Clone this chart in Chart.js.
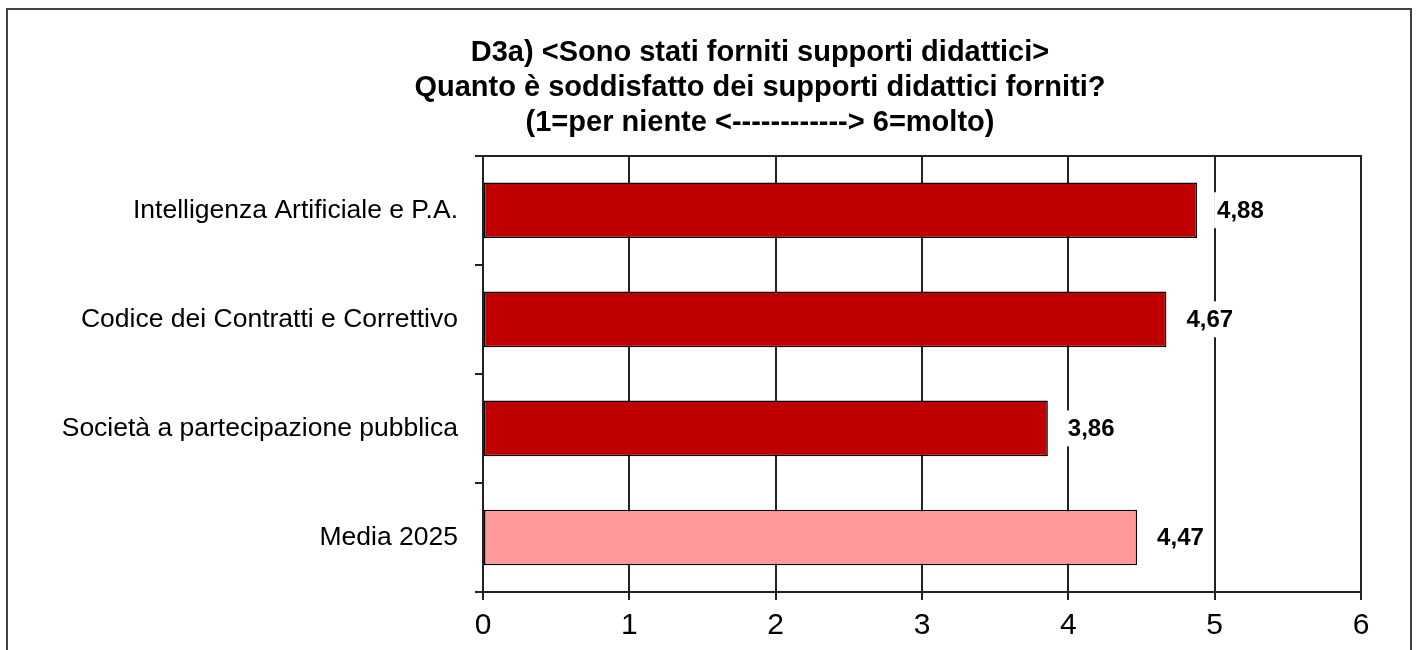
<!DOCTYPE html>
<html lang="it">
  <head>
    <meta charset="UTF-8" />
    <title>D3a supporti didattici</title>
    <script src="https://cdn.jsdelivr.net/npm/chart.js@4.4.1/dist/chart.umd.min.js"></script>
    <style>
      body { margin: 0; background: #fff; }
      #frame {
        position: absolute; left: 6px; top: 8px;
        width: 1402px; height: 700px;
        border: 2px solid #404040;
      }
      #wrap { position: absolute; left: 0; top: 0; width: 1418px; height: 650px; }
    </style>
  </head>
  <body>
    <div id="frame"></div>
    <div id="wrap"><canvas id="chart"></canvas></div>
    <script>
      const categories = [
        'Intelligenza Artificiale e P.A.',
        'Codice dei Contratti e Correttivo',
        'Società a partecipazione pubblica',
        'Media 2025'
      ]
      const scores = [4.88, 4.67, 3.86, 4.47]
      const barColors = ['#C00000', '#C00000', '#C00000', '#FF9999']
      const titleLines = [
        'D3a) <Sono stati forniti supporti didattici>',
        'Quanto è soddisfatto dei supporti didattici forniti?',
        '(1=per niente <------------> 6=molto)'
      ]
      const xTicks = [0, 1, 2, 3, 4, 5, 6]

      const FONT = "'Liberation Sans', Arial, sans-serif"
      const LINE = '#222'

      // value labels right of each bar, on a white box
      const valueLabels = {
        id: 'valueLabels',
        afterLayout(chart) {
          // let the long category labels use the space left of the padding
          chart.scales.y.left = 20
        },
        afterDatasetsDraw(chart) {
          const ctx = chart.ctx
          const meta = chart.getDatasetMeta(0)
          ctx.save()
          ctx.font = 'bold 24px ' + FONT
          ctx.textAlign = 'left'
          ctx.textBaseline = 'middle'
          meta.data.forEach((bar, i) => {
            const txt = scores[i].toFixed(2).replace('.', ',')
            const x = bar.x + 20
            const w = ctx.measureText(txt).width
            ctx.fillStyle = '#fff'
            ctx.fillRect(x - 3, bar.y - 18, w + 6, 36)
            ctx.fillStyle = '#000'
            ctx.fillText(txt, x, bar.y + 1)
          })
          ctx.restore()
        }
      }

      const ctx = document.getElementById('chart').getContext('2d')
      new Chart(ctx, {
        type: 'bar',
        data: {
          labels: categories,
          datasets: [
            {
              data: scores,
              backgroundColor: barColors,
              borderColor: '#000',
              borderWidth: 1.5,
              borderSkipped: false,
              categoryPercentage: 1,
              barPercentage: 0.51
            }
          ]
        },
        options: {
          indexAxis: 'y',
          responsive: true,
          maintainAspectRatio: false,
          animation: false,
          layout: { padding: { left: 159, right: 57, top: 0, bottom: 8 } },
          plugins: {
            legend: { display: false },
            tooltip: { enabled: false },
            title: {
              display: true,
              text: titleLines,
              color: '#000',
              font: { family: FONT, size: 29, weight: 'bold', lineHeight: 1.2 },
              padding: { top: 35.6, bottom: 15.7 }
            }
          },
          scales: {
            x: {
              type: 'linear',
              position: 'bottom',
              min: 0,
              max: 6,
              afterBuildTicks: (scale) => {
                scale.ticks = xTicks.map((v) => ({ value: v }))
              },
              afterFit: (scale) => { scale.height = 50 },
              grid: { color: LINE, lineWidth: 2, tickLength: 8 },
              border: { display: true, color: LINE, width: 2 },
              ticks: {
                color: '#000',
                padding: 8,
                font: { family: FONT, size: 30, lineHeight: 1.2 }
              }
            },
            x2: {
              type: 'linear',
              position: 'top',
              min: 0,
              max: 6,
              grid: { display: false },
              ticks: { display: false },
              border: { display: true, color: LINE, width: 2 },
              afterFit: (scale) => { scale.height = 0 }
            },
            y: {
              grid: {
                offset: true,
                drawOnChartArea: false,
                color: LINE,
                lineWidth: 2,
                tickLength: 8
              },
              border: { display: true, color: LINE, width: 2 },
              ticks: {
                color: '#000',
                padding: 17,
                font: { family: FONT, size: 26.5 }
              },
              afterFit: (scale) => { scale.width = 324 }
            }
          }
        },
        plugins: [valueLabels]
      })
    </script>
  </body>
</html>
